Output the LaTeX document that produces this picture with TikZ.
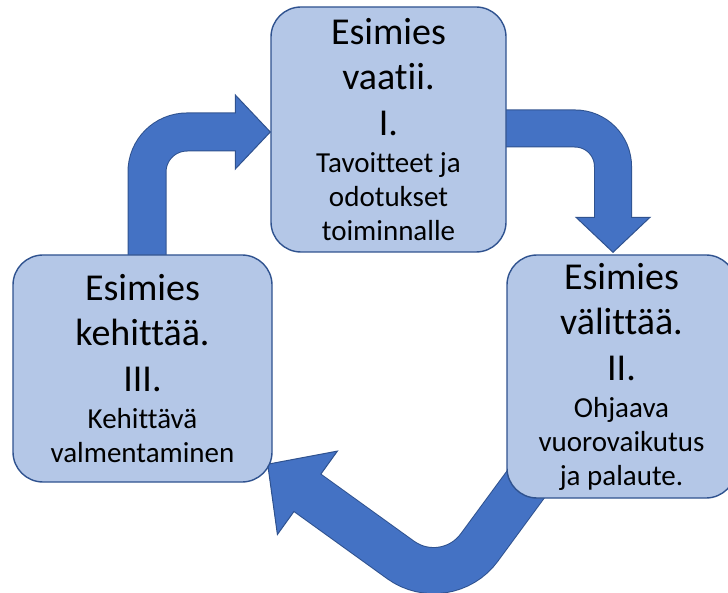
\documentclass[tikz,border=0pt]{standalone}
\usepackage{fontspec}
\setmainfont{Carlito}[Ligatures=NoCommon]
\usetikzlibrary{calc,backgrounds}
\definecolor{boxfill}{HTML}{B4C7E7}
\definecolor{arrowfill}{HTML}{4472C4}
\definecolor{edgeblue}{HTML}{2F528F}
\newcommand\titlefont{\fontsize{38}{45.5}\selectfont}
\newcommand\notefont{\fontsize{29}{34}\selectfont}
\tikzset{
  stagebox/.style={draw=edgeblue, line width=1.4pt, fill=boxfill,
    rounded corners=30pt, align=center, font=\notefont, inner sep=0pt,
    text=black},
  shaftrim/.style={draw=edgeblue, line cap=butt},
  shaftcore/.style={draw=arrowfill, line cap=butt},
  headtip/.style={fill=arrowfill, draw=edgeblue, line width=1pt, line join=miter},
}
\begin{document}
\begin{tikzpicture}[x=1pt,y=-1pt]
\useasboundingbox (0,0) rectangle (728,593);

% the three stages
\node[stagebox, minimum width=235pt, minimum height=245pt] (top) at (388.5,129.5)
  {{\titlefont Esimies}\\[11.5pt]{\titlefont vaatii.}\\[11.5pt]{\titlefont I.}\\[3pt]
   Tavoitteet ja\\odotukset\\toiminnalle};
\node[stagebox, minimum width=229pt, minimum height=243pt] (right) at (621.5,376.5)
  {{\titlefont Esimies}\\[11.5pt]{\titlefont välittää.}\\[11.5pt]{\titlefont II.}\\[3pt]
   Ohjaava\\vuorovaikutus\\ja palaute.};
\node[stagebox, minimum width=259pt, minimum height=227pt] (left) at (142.5,368.5)
  {{\titlefont Esimies}\\[11.5pt]{\titlefont kehittää.}\\[11.5pt]{\titlefont III.}\\[3pt]
   Kehittävä\\valmentaminen};

\begin{pgfonlayer}{background}
  % III -> I : up, then right
  \coordinate (a0) at ($(left.north)+(4.5,10)$);
  \coordinate (aT) at ($(top.west)+(0,2.5)$);
  \coordinate (aB) at ($(aT)+(-35,0)$);
  \draw[shaftrim, line width=39pt, rounded corners=40pt] (a0) -- (a0 |- aB) -- (aB);
  \filldraw[headtip] ($(aB)+(0,-37)$) -- (aT) -- ($(aB)+(0,37)$) -- cycle;
  \draw[shaftcore, line width=37pt, rounded corners=40pt] (a0) -- (a0 |- aB) -- ($(aB)+(2,0)$);

  % I -> II : right, then down
  \coordinate (b0) at ($(top.east)+(-6,-1)$);
  \coordinate (bT) at ($(right.north)+(-8.5,-2)$);
  \coordinate (bB) at ($(bT)+(0,-35)$);
  \draw[shaftrim, line width=38pt, rounded corners=38pt] (b0) -- (bT |- b0) -- (bB);
  \filldraw[headtip] ($(bB)+(-37,0)$) -- (bT) -- ($(bB)+(37,0)$) -- cycle;
  \draw[shaftcore, line width=36pt, rounded corners=38pt] (b0) -- (bT |- b0) -- ($(bB)+(0,2)$);

  % II -> III : down-left, then up-left
  \coordinate (c0) at ($(right.south west)+(28,-26)$);
  \coordinate (cT) at ($(left.south east)+(-5,-18.5)$);
  \coordinate (cB) at ($(cT)+(39.7,28.6)$);
  \coordinate (cC) at ($(cB)+(138.7,99.9)$);
  \draw[shaftrim, line width=47pt, rounded corners=56pt] (c0) -- (cC) -- (cB);
  \filldraw[headtip] ($(cB)+(30,-41.7)$) -- (cT) -- ($(cB)+(-30,41.7)$) -- cycle;
  \draw[shaftcore, line width=45pt, rounded corners=56pt] (c0) -- (cC) -- ($(cB)+(-1.6,-1.2)$);
\end{pgfonlayer}
\end{tikzpicture}
\end{document}
